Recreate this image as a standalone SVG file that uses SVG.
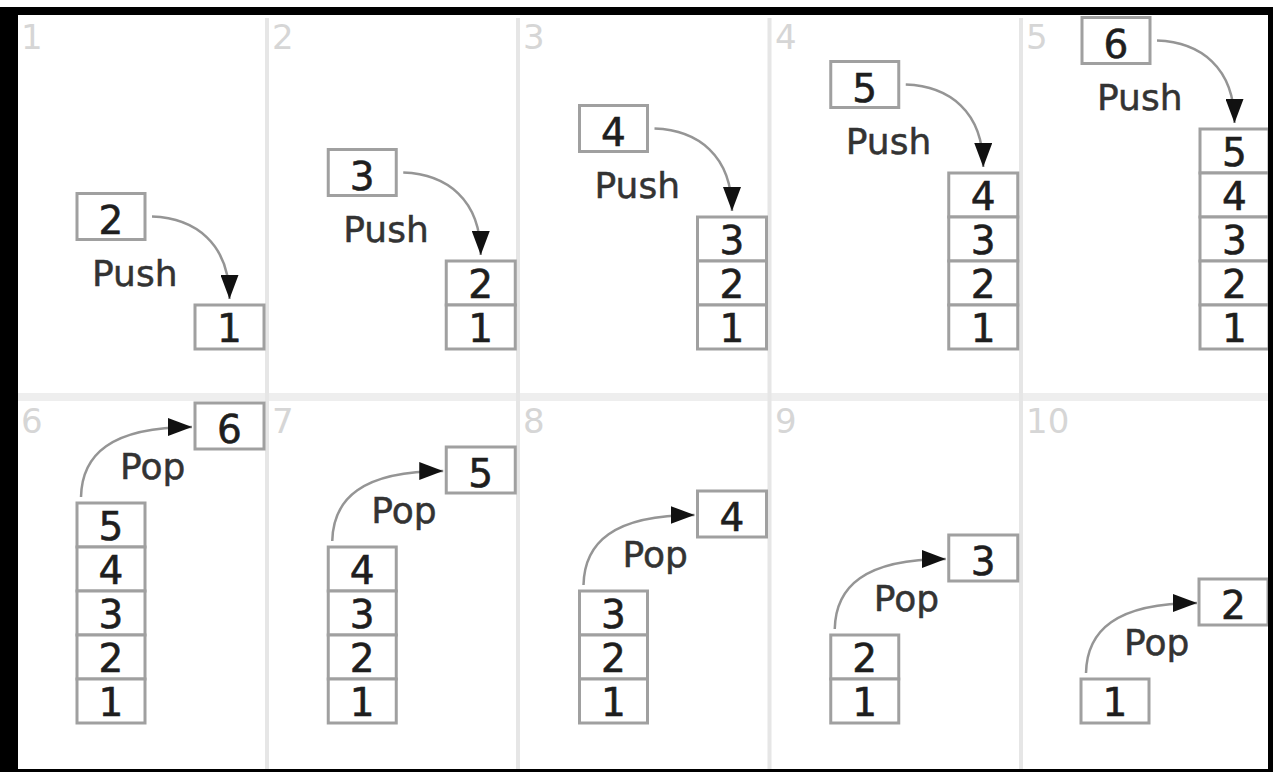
<svg xmlns="http://www.w3.org/2000/svg" width="1273" height="772" viewBox="0 0 1273 772">
  <style>
    .box { fill: #ffffff; stroke: #a0a0a0; stroke-width: 3; }
    .num { font-family: "DejaVu Sans", Verdana, sans-serif; font-size: 39px; fill: #1e1e1e; stroke: #1e1e1e; stroke-width: 0.6; text-anchor: middle; }
    .op { font-family: "DejaVu Sans", Verdana, sans-serif; font-size: 36px; fill: #333333; stroke: #333333; stroke-width: 0.5; }
    .step { font-family: "DejaVu Sans", Verdana, sans-serif; font-size: 34px; fill: #d6d6d6; }
    .div { stroke: #e6e6e6; stroke-width: 4; }
    .arc { fill: none; stroke: #959595; stroke-width: 2.5; marker-end: url(#head); }
  </style>
  <defs>
    <marker id="head" viewBox="0 0 24 18" refX="24" refY="9" markerWidth="24" markerHeight="18" markerUnits="userSpaceOnUse" orient="auto">
      <path d="M0,0 L24,9 L0,18 z" fill="#111111"/>
    </marker>
  </defs>

  <!-- background and frame -->
  <rect x="0" y="0" width="1273" height="772" fill="#ffffff"/>
  <path d="M0,7 H1273 V772 H0 Z M18,15 V769 H1268 V15 Z" fill="#000000" fill-rule="evenodd"/>

  <!-- panel grid -->
  <g id="grid">
    <rect x="18" y="393" width="1250" height="8" fill="#eeeeee"/>
    <line class="div" x1="267" y1="18" x2="267" y2="769"/>
    <line class="div" x1="518" y1="18" x2="518" y2="769"/>
    <line class="div" x1="769.5" y1="18" x2="769.5" y2="769"/>
    <line class="div" x1="1021" y1="18" x2="1021" y2="769"/>
  </g>

  <!-- step numbers -->
  <g id="steps">
    <text class="step" x="21" y="49">1</text>
    <text class="step" x="272" y="49">2</text>
    <text class="step" x="523" y="49">3</text>
    <text class="step" x="775" y="49">4</text>
    <text class="step" x="1026" y="49">5</text>
    <text class="step" x="21" y="433">6</text>
    <text class="step" x="272" y="433">7</text>
    <text class="step" x="523" y="433">8</text>
    <text class="step" x="775" y="433">9</text>
    <text class="step" x="1026" y="433">10</text>
  </g>

  <!-- connectors -->
  <g id="connectors">
    <!-- push: incoming box to top of stack -->
    <path class="arc" d="M152,216.5 C195,218 229.5,243 229.5,299"/>
    <path class="arc" d="M403.25,172.5 C446.25,174 480.75,199 480.75,255"/>
    <path class="arc" d="M654.5,128.5 C697.5,130 732,155 732,211"/>
    <path class="arc" d="M905.75,84.5 C948.75,86 983.25,111 983.25,167"/>
    <path class="arc" d="M1157,40.5 C1200,42 1234.5,67 1234.5,123"/>
    <!-- pop: top of stack to outgoing box -->
    <path class="arc" d="M81,497 C82,455 110,427 192,427"/>
    <path class="arc" d="M332.25,541 C333.25,499 361.25,471 443.25,471"/>
    <path class="arc" d="M583.5,585 C584.5,543 612.5,515 694.5,515"/>
    <path class="arc" d="M834.75,629 C835.75,587 863.75,559 945.75,559"/>
    <path class="arc" d="M1086,673 C1087,631 1115,603 1197,603"/>
  </g>

  <!-- operation labels -->
  <g id="labels">
    <text class="op" x="92" y="285.5">Push</text>
    <text class="op" x="343.25" y="241.5">Push</text>
    <text class="op" x="594.5" y="197.5">Push</text>
    <text class="op" x="845.75" y="153.5">Push</text>
    <text class="op" x="1097" y="109.5">Push</text>
    <text class="op" x="120" y="479">Pop</text>
    <text class="op" x="371.25" y="523">Pop</text>
    <text class="op" x="622.5" y="567">Pop</text>
    <text class="op" x="873.75" y="611">Pop</text>
    <text class="op" x="1124" y="655">Pop</text>
  </g>

  <!-- step 1 -->
  <g id="s1-in"><rect class="box" x="77" y="193.5" width="68" height="46"/><text class="num" x="111" y="233.5">2</text></g>
  <g id="s1-c1"><rect class="box" x="195" y="305" width="69" height="44"/><text class="num" x="229.5" y="342">1</text></g>

  <!-- step 2 -->
  <g id="s2-in"><rect class="box" x="328.25" y="149.5" width="68" height="46"/><text class="num" x="362.25" y="189.5">3</text></g>
  <g id="s2-c2"><rect class="box" x="446.25" y="261" width="69" height="44"/><text class="num" x="480.75" y="298">2</text></g>
  <g id="s2-c1"><rect class="box" x="446.25" y="305" width="69" height="44"/><text class="num" x="480.75" y="342">1</text></g>

  <!-- step 3 -->
  <g id="s3-in"><rect class="box" x="579.5" y="105.5" width="68" height="46"/><text class="num" x="613.5" y="145.5">4</text></g>
  <g id="s3-c3"><rect class="box" x="697.5" y="217" width="69" height="44"/><text class="num" x="732" y="254">3</text></g>
  <g id="s3-c2"><rect class="box" x="697.5" y="261" width="69" height="44"/><text class="num" x="732" y="298">2</text></g>
  <g id="s3-c1"><rect class="box" x="697.5" y="305" width="69" height="44"/><text class="num" x="732" y="342">1</text></g>

  <!-- step 4 -->
  <g id="s4-in"><rect class="box" x="830.75" y="61.5" width="68" height="46"/><text class="num" x="864.75" y="101.5">5</text></g>
  <g id="s4-c4"><rect class="box" x="948.75" y="173" width="69" height="44"/><text class="num" x="983.25" y="210">4</text></g>
  <g id="s4-c3"><rect class="box" x="948.75" y="217" width="69" height="44"/><text class="num" x="983.25" y="254">3</text></g>
  <g id="s4-c2"><rect class="box" x="948.75" y="261" width="69" height="44"/><text class="num" x="983.25" y="298">2</text></g>
  <g id="s4-c1"><rect class="box" x="948.75" y="305" width="69" height="44"/><text class="num" x="983.25" y="342">1</text></g>

  <!-- step 5 -->
  <g id="s5-in"><rect class="box" x="1082" y="17.5" width="68" height="46"/><text class="num" x="1116" y="57.5">6</text></g>
  <g id="s5-c5"><rect class="box" x="1200" y="129" width="69" height="44"/><text class="num" x="1234.5" y="166">5</text></g>
  <g id="s5-c4"><rect class="box" x="1200" y="173" width="69" height="44"/><text class="num" x="1234.5" y="210">4</text></g>
  <g id="s5-c3"><rect class="box" x="1200" y="217" width="69" height="44"/><text class="num" x="1234.5" y="254">3</text></g>
  <g id="s5-c2"><rect class="box" x="1200" y="261" width="69" height="44"/><text class="num" x="1234.5" y="298">2</text></g>
  <g id="s5-c1"><rect class="box" x="1200" y="305" width="69" height="44"/><text class="num" x="1234.5" y="342">1</text></g>

  <!-- step 6 -->
  <g id="s6-out"><rect class="box" x="195" y="403" width="69" height="46"/><text class="num" x="229.5" y="443">6</text></g>
  <g id="s6-c5"><rect class="box" x="77" y="503" width="68" height="44"/><text class="num" x="111" y="540">5</text></g>
  <g id="s6-c4"><rect class="box" x="77" y="547" width="68" height="44"/><text class="num" x="111" y="584">4</text></g>
  <g id="s6-c3"><rect class="box" x="77" y="591" width="68" height="44"/><text class="num" x="111" y="628">3</text></g>
  <g id="s6-c2"><rect class="box" x="77" y="635" width="68" height="44"/><text class="num" x="111" y="672">2</text></g>
  <g id="s6-c1"><rect class="box" x="77" y="679" width="68" height="44"/><text class="num" x="111" y="716">1</text></g>

  <!-- step 7 -->
  <g id="s7-out"><rect class="box" x="446.25" y="447" width="69" height="46"/><text class="num" x="480.75" y="487">5</text></g>
  <g id="s7-c4"><rect class="box" x="328.25" y="547" width="68" height="44"/><text class="num" x="362.25" y="584">4</text></g>
  <g id="s7-c3"><rect class="box" x="328.25" y="591" width="68" height="44"/><text class="num" x="362.25" y="628">3</text></g>
  <g id="s7-c2"><rect class="box" x="328.25" y="635" width="68" height="44"/><text class="num" x="362.25" y="672">2</text></g>
  <g id="s7-c1"><rect class="box" x="328.25" y="679" width="68" height="44"/><text class="num" x="362.25" y="716">1</text></g>

  <!-- step 8 -->
  <g id="s8-out"><rect class="box" x="697.5" y="491" width="69" height="46"/><text class="num" x="732" y="531">4</text></g>
  <g id="s8-c3"><rect class="box" x="579.5" y="591" width="68" height="44"/><text class="num" x="613.5" y="628">3</text></g>
  <g id="s8-c2"><rect class="box" x="579.5" y="635" width="68" height="44"/><text class="num" x="613.5" y="672">2</text></g>
  <g id="s8-c1"><rect class="box" x="579.5" y="679" width="68" height="44"/><text class="num" x="613.5" y="716">1</text></g>

  <!-- step 9 -->
  <g id="s9-out"><rect class="box" x="948.75" y="535" width="69" height="46"/><text class="num" x="983.25" y="575">3</text></g>
  <g id="s9-c2"><rect class="box" x="830.75" y="635" width="68" height="44"/><text class="num" x="864.75" y="672">2</text></g>
  <g id="s9-c1"><rect class="box" x="830.75" y="679" width="68" height="44"/><text class="num" x="864.75" y="716">1</text></g>

  <!-- step 10 -->
  <g id="s10-out"><rect class="box" x="1199" y="579" width="69" height="46"/><text class="num" x="1233.5" y="619">2</text></g>
  <g id="s10-c1"><rect class="box" x="1081" y="679" width="68" height="44"/><text class="num" x="1115" y="716">1</text></g>

  <!-- frame edge over the rightmost boxes -->
  <rect x="1268" y="7" width="5" height="765" fill="#000000"/>
</svg>
